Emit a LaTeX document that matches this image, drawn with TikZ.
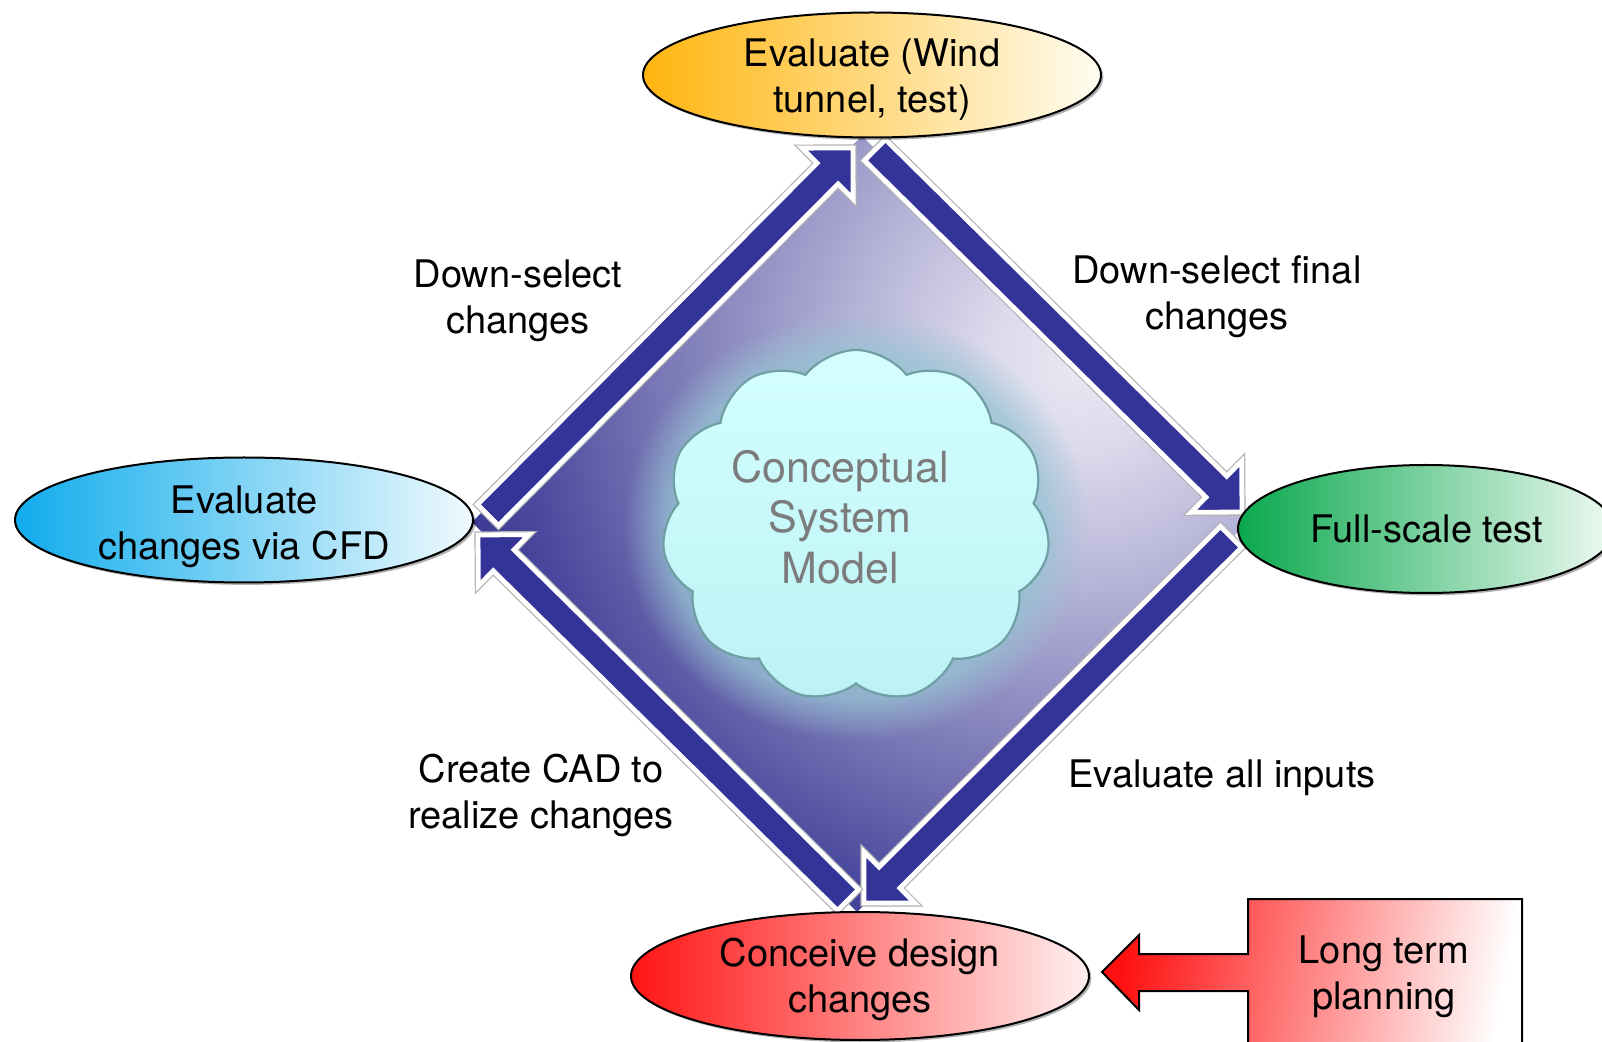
\documentclass[tikz,border=0pt]{standalone}
\usepackage{fontspec}
\setmainfont{TeX Gyre Heros}
\usetikzlibrary{shapes.geometric,shapes.symbols,calc,shadows,fadings}

% palette
\definecolor{arrowblue}{RGB}{52,51,152}
\definecolor{dlightA}{RGB}{234,232,243}
\definecolor{dlightB}{RGB}{222,220,236}
\definecolor{dmidA}{RGB}{190,188,220}
\definecolor{dmidB}{RGB}{152,150,198}
\definecolor{dmidC}{RGB}{112,110,176}
\definecolor{ddarkA}{RGB}{76,74,158}
\definecolor{ddarkB}{RGB}{56,54,143}
\definecolor{glowc}{RGB}{150,196,212}
\definecolor{cloudtop}{RGB}{212,255,255}
\definecolor{cloudbot}{RGB}{188,242,245}
\definecolor{cloudedge}{RGB}{112,160,164}
\definecolor{cloudtext}{RGB}{124,124,124}

% background of the cycle: light spot upper right, dark towards lower left
\pgfdeclareradialshading{diamondglow}{\pgfpoint{0bp}{0bp}}{%
  color(0bp)=(dlightA); color(2.9bp)=(dlightB); color(7.1bp)=(dmidA);
  color(11.4bp)=(dmidB); color(16.1bp)=(dmidC); color(20bp)=(ddarkA);
  color(23.2bp)=(ddarkB); color(25bp)=(ddarkB); color(50bp)=(ddarkB)}

\newcommand\lblfont{\fontsize{19}{23}\selectfont}
\newcommand\cloudfont{\fontsize{21.5}{25.3}\selectfont}

\tikzset{
  stage/.style={ellipse, draw=black, line width=1pt, inner sep=0pt,
    align=center, font=\lblfont, minimum width=229pt, minimum height=62.5pt,
    drop shadow={shadow xshift=1.2pt, shadow yshift=-1.2pt, opacity=0.3, fill=black}},
  label/.style={align=center, font=\lblfont, inner sep=0pt},
  cyclearrowstyle/.style={fill=arrowblue, draw=white, line width=2.4pt,
    preaction={draw=black!30, line width=3.6pt}},
}

% thick cycle arrow from #1 (tail) to #2 (tip)
\newcommand\cyclearrow[2]{%
  \coordinate (cas) at (#1);
  \coordinate (cab) at (#2);
  \coordinate (cah) at ($(cab)!18pt!(cas)$);
  \path[cyclearrowstyle]
    ($(cas)!7.4pt!90:(cab)$) -- ($(cah)!7.4pt!90:(cab)$) -- ($(cah)!18pt!90:(cab)$)
    -- (cab) -- ($(cah)!18pt!-90:(cab)$) -- ($(cah)!7.4pt!-90:(cab)$)
    -- ($(cas)!7.4pt!-90:(cab)$) -- cycle;
}

\begin{document}
\begin{tikzpicture}[x=0.5pt, y=-0.5pt]
\useasboundingbox (0,0) rectangle (1602,1042);
\clip (0,0) rectangle (1602,1042);
\fill[white] (0,0) rectangle (1602,1042);

% diamond area
\coordinate (dT) at (862,136);
\coordinate (dR) at (1248,522);
\coordinate (dB) at (857,912);
\coordinate (dL) at (472,522);
\begin{scope}
  \clip (dT) -- (dR) -- (dB) -- (dL) -- cycle;
  \shade[shading=diamondglow] (1080,360) circle (700);
  \fill[glowc, opacity=0.75, path fading=circle with fuzzy edge 20 percent]
    (856,526) ellipse (232 and 214);
\end{scope}

% conceptual model cloud
\node[cloud, cloud puffs=11, cloud puff arc=105, aspect=1.1,
      minimum width=194pt, minimum height=176pt, inner sep=0pt,
      draw=cloudedge, line width=1.1pt, top color=cloudtop, bottom color=cloudbot,
      shape border rotate=8]
  (cloud) at (856,526) {};
\node[align=center, font=\cloudfont, text=cloudtext, inner sep=0pt]
  (cloudtxt) at (840,517) {Conceptual\\System\\Model};

% ends of the cycle arrows
\coordinate (aTail) at (488,515);  \coordinate (aTip) at (853,148);
\coordinate (bTail) at (875,150);  \coordinate (bTip) at (1242,512);
\coordinate (cTail) at (1231,537); \coordinate (cTip) at (864,903);
\coordinate (dTail) at (848,900);  \coordinate (dTip) at (478,535);
\cyclearrow{aTail}{aTip}
\cyclearrow{bTail}{bTip}
\cyclearrow{cTail}{cTip}
\cyclearrow{dTail}{dTip}

% stages
\node[stage, left color={rgb,255:red,255;green,181;blue,15},
      middle color={rgb,255:red,255;green,226;blue,122},
      right color={rgb,255:red,255;green,253;blue,242}]
  (wind) at (872,75) {};
\node[label] (windtxt) at (872,80) {Evaluate (Wind\\tunnel, test)};
\node[stage, left color={rgb,255:red,16;green,172;blue,236},
      middle color={rgb,255:red,130;green,210;blue,244},
      right color={rgb,255:red,240;green,250;blue,254}]
  (cfd) at (244,520) {};
\node[label] (cfdtxt) at (244,527) {Evaluate\\changes via CFD};
\node[stage, minimum width=188pt, minimum height=64pt,
      left color={rgb,255:red,10;green,168;blue,78},
      middle color={rgb,255:red,120;green,208;blue,155},
      right color={rgb,255:red,238;green,250;blue,242}]
  (full) at (1426,529) {};
\node[label] (fulltxt) at (1427,529) {Full-scale test};
\node[stage, minimum height=64pt,
      left color={rgb,255:red,255;green,20;blue,20},
      middle color={rgb,255:red,255;green,140;blue,140},
      right color={rgb,255:red,255;green,240;blue,240}]
  (concv) at (860,976) {};
\node[label] (concvtxt) at (860,979) {Conceive design\\changes};

% long term planning callout pointing at the first stage
\coordinate (pTip) at ($(concv.east)+(12,-4)$);
\coordinate (pNW) at (1248,899);
\coordinate (pNE) at (1522,899);
\path[draw=black, line width=1pt,
      left color={rgb,255:red,255;green,16;blue,16},
      middle color={rgb,255:red,255;green,130;blue,130},
      right color=white, shading angle=80]
  (pTip) -- ($(pTip)+(37,-37)$) -- ($(pTip)+(37,-18)$) -- ($(pNW)+(0,55)$)
  -- (pNW) -- (pNE) -- ($(pNE)+(0,170)$) -- ($(pNW)+(0,170)$)
  -- ($(pNW)+(0,92)$) -- ($(pTip)+(37,19)$) -- ($(pTip)+(37,38)$) -- cycle;
\node[label] (plan) at (1384,977) {Long term\\planning};

% step labels
\node[label] (lblA) at (518,301) {Down-select\\changes};
\node[label] (lblB) at (1217,297) {Down-select final\\changes};
\node[label] (lblC) at (541,795) {Create CAD to\\realize changes};
\node[label] (lblD) at (1222,778) {Evaluate all inputs};
\end{tikzpicture}
\end{document}
